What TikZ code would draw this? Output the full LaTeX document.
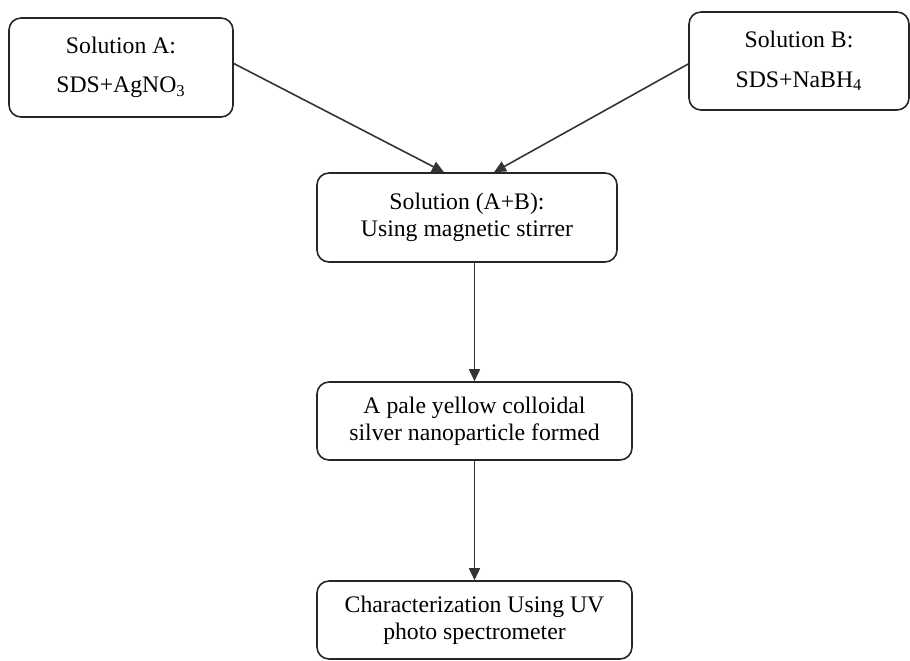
\documentclass[tikz,border=0pt]{standalone}
\usepackage{fontspec}
\setmainfont{Liberation Serif}
\usepackage{tikz}
\usetikzlibrary{arrows.meta}
\colorlet{boxline}{black!85}
\colorlet{arrowline}{black!80}

\begin{document}
\begin{tikzpicture}[x=0.2mm, y=-0.2mm,
    procbox/.style={draw=boxline, line width=0.9pt, rounded corners=2.4mm, align=center,
        inner sep=0pt, font=\fontsize{13.5}{15.5}\selectfont},
    flowarrow/.style={draw=arrowline, line width=0.9pt, -{Triangle[length=2.4mm, width=2.2mm]}}]
        \useasboundingbox (0,0) rectangle (910,660);
        \node[procbox, minimum width=44.8mm, minimum height=19.8mm] (solA) at (121,67.5)
            {Solution A:\\[7pt] SDS+AgNO\textsubscript{3}};
        \node[procbox, minimum width=44mm, minimum height=19.6mm] (solB) at (799,61)
            {Solution B:\\[7pt] SDS+NaBH\textsubscript{4}};
        \node[procbox, minimum width=60mm, minimum height=17.8mm] (mixAB) at (467,217.5)
            {Solution (A+B):\\ Using magnetic stirrer};
        \node[procbox, minimum width=63mm, minimum height=15.6mm] (colloid) at (474.5,421)
            {A pale yellow colloidal\\ silver nanoparticle formed};
        \node[procbox, minimum width=63mm, minimum height=15.6mm] (uvchar) at (474.5,620)
            {Characterization Using UV\\ photo spectrometer};
        \draw[flowarrow] ([yshift=0.8mm]solA.east) -- ([xshift=-4.6mm]mixAB.north);
        \draw[flowarrow] ([yshift=-0.6mm]solB.west) -- ([xshift=5.4mm]mixAB.north);
        \draw[flowarrow] (colloid.north |- mixAB.south) -- (colloid.north);
        \draw[flowarrow] (colloid.south) -- (uvchar.north);
    \end{tikzpicture}
\end{document}
